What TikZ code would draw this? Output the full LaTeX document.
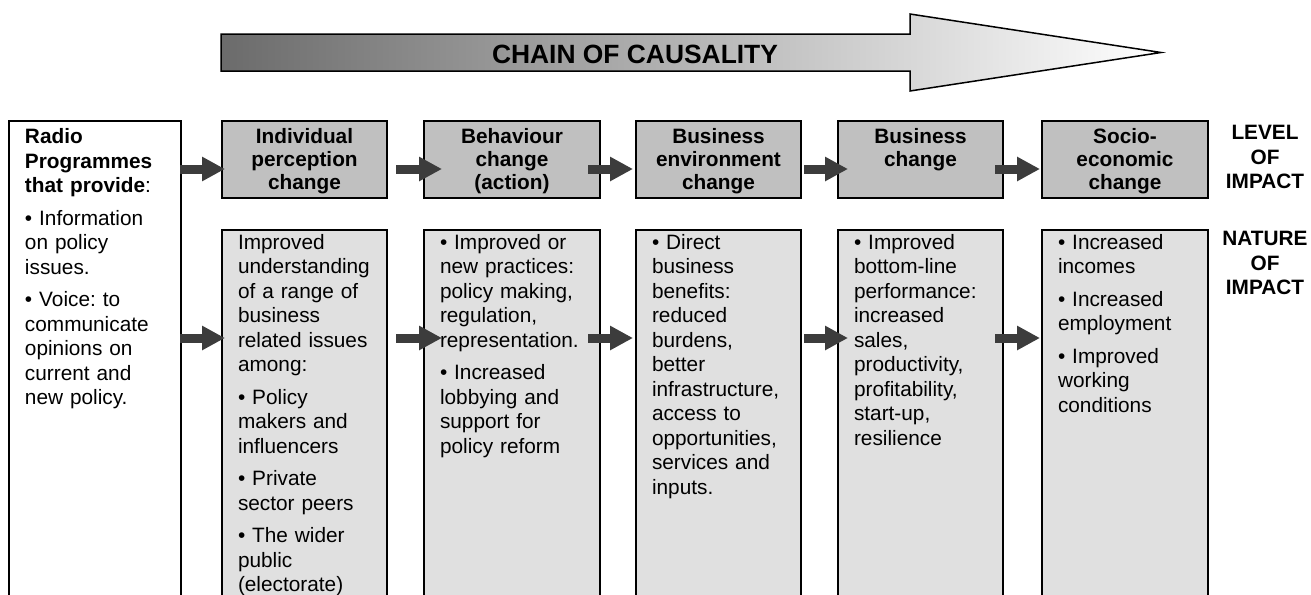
\documentclass[tikz,border=0pt]{standalone}
\usepackage{fontspec}
\setmainfont{Liberation Sans}
\usepackage{tikz}
\usetikzlibrary{arrows.meta}
\definecolor{levelgray}{HTML}{C0C0C0}
\definecolor{naturegray}{HTML}{E0E0E0}
\definecolor{arrowgray}{HTML}{3C3C3C}
\frenchspacing

\begin{document}
\begin{tikzpicture}[x=0.5pt,y=-0.5pt,
  lvlbox/.style={draw, line width=1pt, fill=levelgray, anchor=north west,
    inner xsep=8pt, inner ysep=0pt, text width=#1, align=center,
    text height=11.25pt, text depth=27.25pt,
    font=\fontsize{10.4}{11.5}\selectfont\bfseries},
  natbox/.style={draw, line width=1pt, fill=naturegray, anchor=north west,
    inner xsep=8pt, inner ysep=0pt, text width=#1, align=left,
    text height=9.5pt, text depth=178.5pt,
    font=\fontsize{10.4}{12.25}\selectfont},
  sidelabel/.style={anchor=north, inner sep=0pt, text width=50pt, align=center,
    text height=7.5pt, font=\fontsize{10.4}{12.25}\selectfont\bfseries},
  fatarrow/.style={draw=arrowgray, line width=4.5pt,
    -{Triangle[length=11.5pt,width=11.5pt]}}]
\useasboundingbox (0,0) rectangle (1311,594);

% chain of causality
\draw[line width=0.75pt, left color=black!58, right color=white]
  (221,34) -- (910,34) -- (910,14) -- (1161,52.5) -- (910,91) -- (910,71) -- (221,71) -- cycle;
\node[font=\fontsize{13.2}{15}\selectfont\bfseries] (chain) at (635,54.5) {CHAIN OF CAUSALITY};

\node[draw, line width=1pt, fill=white, anchor=north west, inner xsep=8pt, inner ysep=0pt,
  text width=70pt, align=left, text height=11.25pt, text depth=231.25pt,
  font=\fontsize{10.4}{12.25}\selectfont] (radio) at (8,120)
  {\textbf{Radio}\\\textbf{Programmes}\\\textbf{that provide}:\\[4pt]
   \textbullet{} Information\\on policy\\issues.\\[4pt]
   \textbullet{} Voice: to\\communicate\\opinions on\\current and\\new policy.};

% level of impact
\node[lvlbox=66.5pt] (lv1) at (221,120) {Individual\\perception\\change};
\node[lvlbox=72pt] (lv2) at (423,120) {Behaviour\\change\\(action)};
\node[lvlbox=66.5pt] (lv3) at (635,120) {Business\\environment\\change};
\node[lvlbox=66.5pt] (lv4) at (837,120) {Business\\change};
\node[lvlbox=67pt] (lv5) at (1041,120) {Socio-\\economic\\change};

% nature of impact
\node[natbox=66.5pt] (nt1) at (221,229)
  {Improved\\understanding\\of a range of\\business\\related issues\\among:\\[4pt]
   \textbullet{} Policy\\makers and\\influencers\\[4pt]
   \textbullet{} Private\\sector peers\\[4pt]
   \textbullet{} The wider\\public\\(electorate)};
\node[natbox=72pt] (nt2) at (423,229)
  {\textbullet{} Improved or\\new practices:\\policy making,\\regulation,\\representation.\\[4pt]
   \textbullet{} Increased\\lobbying and\\support for\\policy reform};
\node[natbox=66.5pt] (nt3) at (635,229)
  {\textbullet{} Direct\\business\\benefits:\\reduced\\burdens,\\better\\infrastructure,\\access to\\opportunities,\\services and\\inputs.};
\node[natbox=66.5pt] (nt4) at (837,229)
  {\textbullet{} Improved\\bottom-line\\performance:\\increased\\sales,\\productivity,\\profitability,\\start-up,\\resilience};
\node[natbox=67pt] (nt5) at (1041,229)
  {\textbullet{} Increased\\incomes\\[4pt]
   \textbullet{} Increased\\employment\\[4pt]
   \textbullet{} Improved\\working\\conditions};

\node[sidelabel] (lvlab) at (1265,124.5) {LEVEL\\OF\\IMPACT};
\node[sidelabel] (ntlab) at (1265,230.5) {NATURE\\OF\\IMPACT};

\draw[fatarrow] ([shift={(-2,49)}]radio.north east) -- ([shift={(4,49)}]lv1.north west);
\draw[fatarrow] ([shift={(8,49)}]lv1.north east) -- ([shift={(19,49)}]lv2.north west);
\draw[fatarrow] ([shift={(-13,49)}]lv2.north east) -- ([shift={(-2,49)}]lv3.north west);
\draw[fatarrow] ([shift={(2,49)}]lv3.north east) -- ([shift={(11,49)}]lv4.north west);
\draw[fatarrow] ([shift={(-9,49)}]lv4.north east) -- ([shift={(-1,49)}]lv5.north west);

\draw[fatarrow] ([shift={(-2,218)}]radio.north east) -- ([shift={(4,109)}]nt1.north west);
\draw[fatarrow] ([shift={(8,109)}]nt1.north east) -- ([shift={(19,109)}]nt2.north west);
\draw[fatarrow] ([shift={(-13,109)}]nt2.north east) -- ([shift={(-2,109)}]nt3.north west);
\draw[fatarrow] ([shift={(2,109)}]nt3.north east) -- ([shift={(11,109)}]nt4.north west);
\draw[fatarrow] ([shift={(-9,109)}]nt4.north east) -- ([shift={(-1,109)}]nt5.north west);

\end{tikzpicture}
\end{document}
